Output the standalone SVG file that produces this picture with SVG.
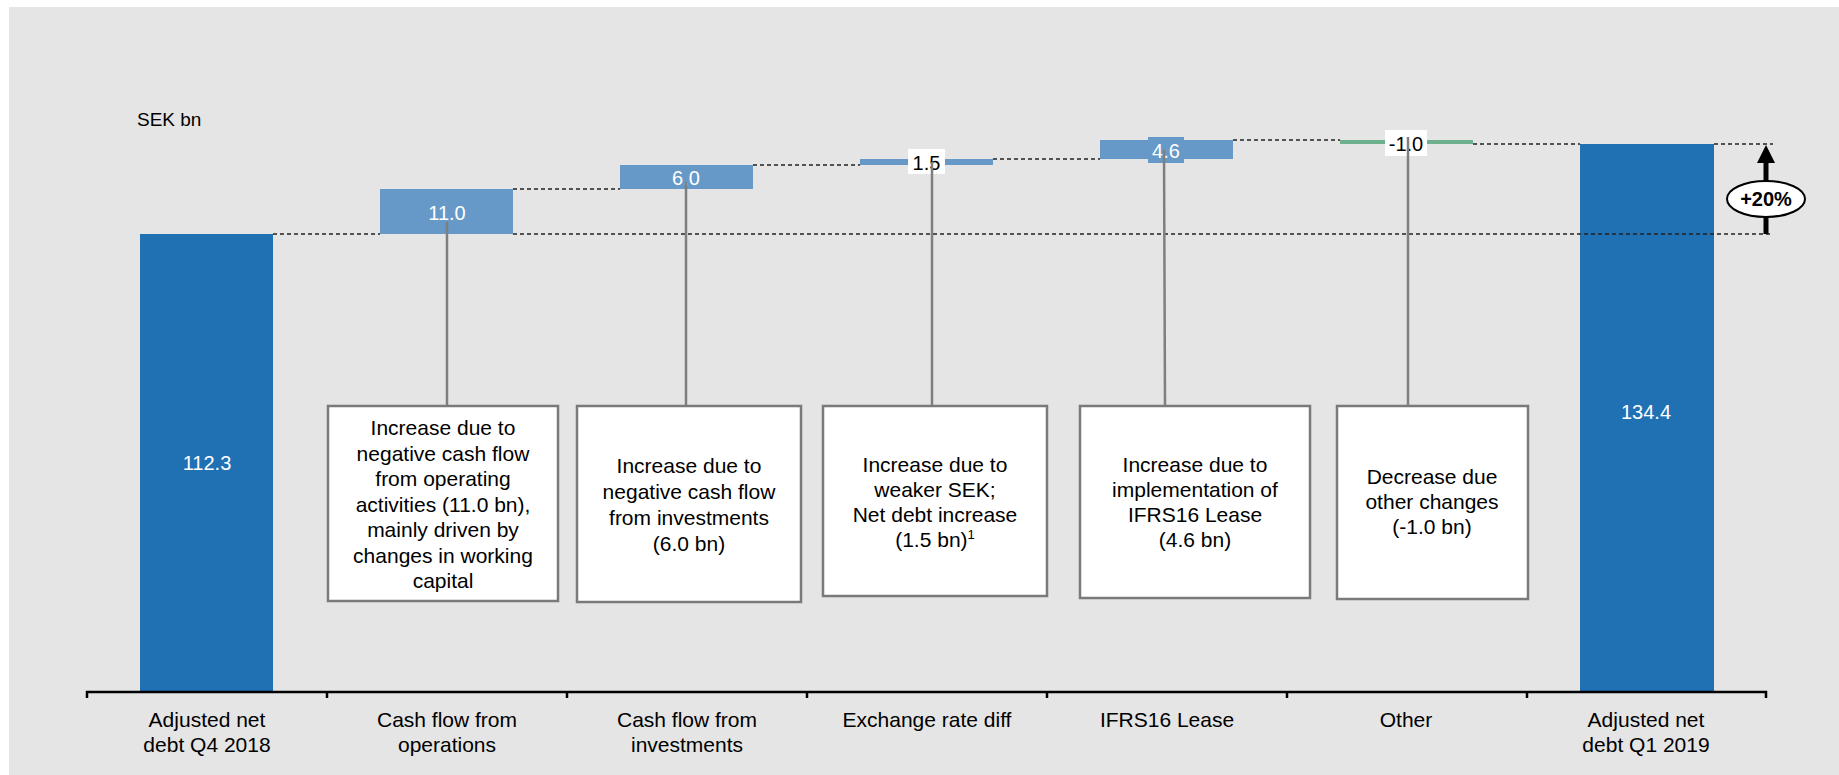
<svg xmlns="http://www.w3.org/2000/svg" width="1839" height="775" viewBox="0 0 1839 775">
<defs>
<style>
text{font-family:"Liberation Sans",Arial,sans-serif;fill:#000}
.t{font-size:21px;text-anchor:middle}
.v{font-size:20px;text-anchor:middle}
.vw{fill:#fff}
.dark{fill:#2070b4}
.light{fill:#6699c8}
.green{fill:#6cb08e}
.dash{stroke:#222;stroke-width:1.3;stroke-dasharray:4 3;fill:none}
.con{stroke:#7f7f7f;stroke-width:2.5;fill:none}
.box{fill:#fff;stroke:#7a7a7a;stroke-width:2.5}
.lbl{fill:#fff}
</style>
</defs>
<rect x="0" y="0" width="1839" height="775" fill="#fff"/>
<rect x="9" y="7" width="1830" height="768" fill="#e5e5e5"/>
<text x="137" y="126" style="font-size:19px">SEK bn</text>

<g id="bars">
<g id="bar-q4"><rect class="dark" x="140" y="234" width="133" height="458"/><text class="v vw" x="207" y="470">112.3</text></g>
<g id="bar-ops"><rect class="light" x="380" y="189" width="133" height="45"/></g>
<g id="bar-inv"><rect class="light" x="620" y="165" width="133" height="24"/></g>
<g id="bar-fx"><rect class="light" x="860" y="159" width="133" height="6"/></g>
<g id="bar-ifrs"><rect class="light" x="1100" y="140" width="133" height="19"/></g>
<g id="bar-other"><rect class="green" x="1340" y="140" width="133" height="4"/></g>
<g id="bar-q1"><rect class="dark" x="1580" y="144" width="134" height="548"/><text class="v vw" x="1646" y="419">134.4</text></g>
</g>

<g id="guides">
<line class="dash" x1="273" y1="234" x2="380" y2="234"/>
<line class="dash" x1="513" y1="234" x2="1773" y2="234"/>
<line class="dash" x1="513" y1="189" x2="620" y2="189"/>
<line class="dash" x1="753" y1="165" x2="860" y2="165"/>
<line class="dash" x1="993" y1="159" x2="1100" y2="159"/>
<line class="dash" x1="1233" y1="140" x2="1340" y2="140"/>
<line class="dash" x1="1473" y1="144" x2="1580" y2="144"/>
<line class="dash" x1="1714" y1="144" x2="1773" y2="144"/>
</g>

<g id="value-labels">
<text class="v vw" x="447" y="220">11.0</text>
<text class="v vw" x="686" y="185">6.0</text>
<rect class="lbl" x="908" y="149" width="37" height="25"/>
<text class="v" x="926.5" y="170">1.5</text>
<rect class="light" x="1148" y="137" width="36" height="26"/>
<text class="v vw" x="1166" y="158">4.6</text>
<rect class="lbl" x="1385" y="130" width="42" height="26"/>
<text class="v" x="1406" y="151">-1.0</text>
</g>

<g id="connectors">
<line class="con" x1="447" y1="222" x2="447" y2="406"/>
<line class="con" x1="686" y1="182" x2="686" y2="406"/>
<line class="con" x1="932" y1="162" x2="932" y2="406"/>
<line class="con" x1="1164" y1="150" x2="1165" y2="406"/>
<line class="con" x1="1408" y1="137" x2="1408" y2="406"/>
</g>

<g id="change-arrow">
<line x1="1766" y1="234" x2="1766" y2="217" stroke="#000" stroke-width="5"/>
<line x1="1766" y1="181" x2="1766" y2="160" stroke="#000" stroke-width="5"/>
<path d="M1757,163 L1766,145 L1775,163 Z" fill="#000"/>
<ellipse cx="1766" cy="199" rx="39" ry="18" fill="#fff" stroke="#000" stroke-width="2"/>
<text x="1766" y="206" style="font-size:20px;font-weight:bold;text-anchor:middle">+20%</text>
</g>

<g id="box-ops">
<rect class="box" x="328" y="406" width="230" height="195"/>
<text class="t" x="443" y="435">Increase due to</text>
<text class="t" x="443" y="460.5">negative cash flow</text>
<text class="t" x="443" y="486">from operating</text>
<text class="t" x="443" y="511.5">activities (11.0 bn),</text>
<text class="t" x="443" y="537">mainly driven by</text>
<text class="t" x="443" y="562.5">changes in working</text>
<text class="t" x="443" y="588">capital</text>
</g>
<g id="box-inv">
<rect class="box" x="577" y="406" width="224" height="196"/>
<text class="t" x="689" y="473">Increase due to</text>
<text class="t" x="689" y="499">negative cash flow</text>
<text class="t" x="689" y="525">from investments</text>
<text class="t" x="689" y="551">(6.0 bn)</text>
</g>
<g id="box-fx">
<rect class="box" x="823" y="406" width="224" height="190"/>
<text class="t" x="935" y="472">Increase due to</text>
<text class="t" x="935" y="497">weaker SEK;</text>
<text class="t" x="935" y="522">Net debt increase</text>
<text class="t" x="935" y="547">(1.5 bn)<tspan dy="-8" style="font-size:13px">1</tspan></text>
</g>
<g id="box-ifrs">
<rect class="box" x="1080" y="406" width="230" height="192"/>
<text class="t" x="1195" y="472">Increase due to</text>
<text class="t" x="1195" y="497">implementation of</text>
<text class="t" x="1195" y="522">IFRS16 Lease</text>
<text class="t" x="1195" y="547">(4.6 bn)</text>
</g>
<g id="box-other">
<rect class="box" x="1337" y="406" width="191" height="193"/>
<text class="t" x="1432" y="484">Decrease due</text>
<text class="t" x="1432" y="509">other changes</text>
<text class="t" x="1432" y="534">(-1.0 bn)</text>
</g>

<g id="axis">
<path d="M87,698 V692 H1766 V698 M327,692 V698 M567,692 V698 M807,692 V698 M1047,692 V698 M1287,692 V698 M1527,692 V698" fill="none" stroke="#000" stroke-width="2.5"/>
<text class="t" x="207" y="727">Adjusted net</text>
<text class="t" x="207" y="752">debt Q4 2018</text>
<text class="t" x="447" y="727">Cash flow from</text>
<text class="t" x="447" y="752">operations</text>
<text class="t" x="687" y="727">Cash flow from</text>
<text class="t" x="687" y="752">investments</text>
<text class="t" x="927" y="727">Exchange rate diff</text>
<text class="t" x="1167" y="727">IFRS16 Lease</text>
<text class="t" x="1406" y="727">Other</text>
<text class="t" x="1646" y="727">Adjusted net</text>
<text class="t" x="1646" y="752">debt Q1 2019</text>
</g>
</svg>
